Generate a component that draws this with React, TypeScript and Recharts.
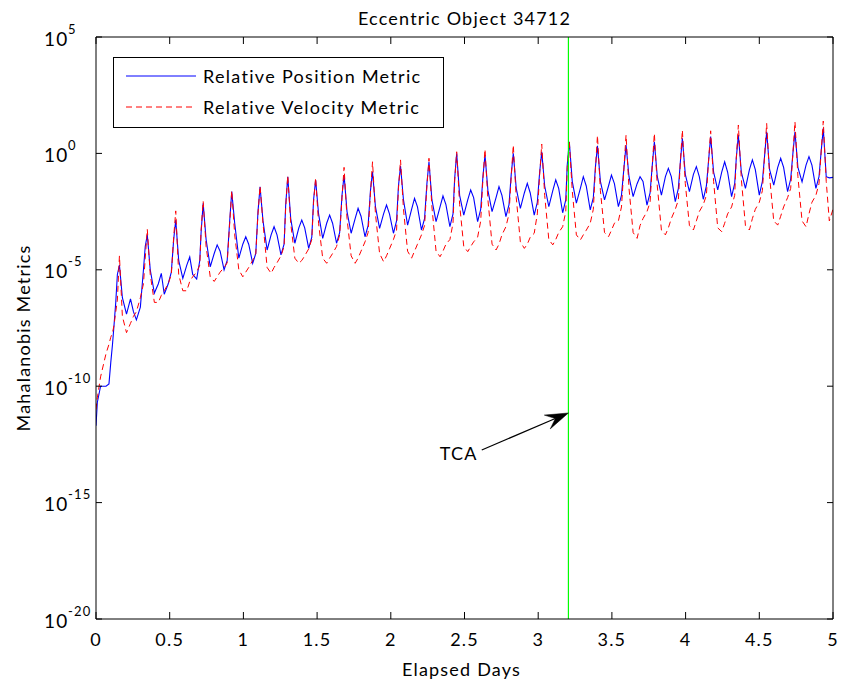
import React from 'react';
import { LineChart, Line, XAxis, YAxis, ReferenceLine, Legend } from 'recharts';

const FONT = 'Lato, "Open Sans", "DejaVu Sans", sans-serif';

const chartTitle = 'Eccentric Object 34712';
const xAxisTitle = 'Elapsed Days';
const yAxisTitle = 'Mahalanobis Metrics';
const positionName = 'Relative Position Metric';
const velocityName = 'Relative Velocity Metric';

const xTicks = [0, 0.5, 1, 1.5, 2, 2.5, 3, 3.5, 4, 4.5, 5];
const yTickExponents = [-20, -15, -10, -5, 0, 5];

const tcaDay = 3.205;
const tcaLabel = 'TCA';
const tcaArrowFrom = { day: 2.617, log10: -12.74 };
const tcaArrowTo = { day: 3.205, log10: -11.15 };

// elapsed days of each sample
const days = [
  0, 0.009, 0.031, 0.068, 0.088, 0.1, 0.112, 0.122, 0.134, 0.145,
  0.159, 0.179, 0.207, 0.234, 0.254, 0.274, 0.301, 0.322, 0.334,
  0.348, 0.368, 0.396, 0.423, 0.443, 0.463, 0.49, 0.511, 0.527,
  0.541, 0.561, 0.589, 0.616, 0.636, 0.656, 0.683, 0.704, 0.713,
  0.727, 0.747, 0.775, 0.802, 0.822, 0.842, 0.869, 0.89, 0.907,
  0.921, 0.941, 0.969, 0.996, 1.016, 1.036, 1.063, 1.084, 1.099,
  1.113, 1.133, 1.161, 1.188, 1.208, 1.228, 1.255, 1.276, 1.287,
  1.301, 1.321, 1.349, 1.376, 1.396, 1.416, 1.443, 1.464, 1.476,
  1.49, 1.51, 1.538, 1.565, 1.585, 1.605, 1.632, 1.653, 1.669,
  1.683, 1.703, 1.731, 1.758, 1.778, 1.798, 1.825, 1.846, 1.862,
  1.876, 1.896, 1.924, 1.951, 1.971, 1.991, 2.018, 2.039, 2.052,
  2.066, 2.086, 2.114, 2.141, 2.161, 2.181, 2.208, 2.229, 2.245,
  2.259, 2.279, 2.307, 2.334, 2.354, 2.374, 2.401, 2.422, 2.433,
  2.447, 2.467, 2.495, 2.522, 2.542, 2.562, 2.589, 2.61, 2.625,
  2.639, 2.659, 2.687, 2.714, 2.734, 2.754, 2.781, 2.802, 2.817,
  2.831, 2.851, 2.879, 2.906, 2.926, 2.946, 2.973, 2.994, 3.01,
  3.024, 3.044, 3.072, 3.099, 3.119, 3.139, 3.166, 3.187, 3.197,
  3.211, 3.231, 3.259, 3.286, 3.306, 3.326, 3.353, 3.374, 3.388,
  3.402, 3.422, 3.45, 3.477, 3.497, 3.517, 3.544, 3.565, 3.582,
  3.596, 3.616, 3.644, 3.671, 3.691, 3.711, 3.738, 3.759, 3.774,
  3.788, 3.808, 3.836, 3.863, 3.883, 3.903, 3.93, 3.951, 3.964,
  3.978, 3.998, 4.026, 4.053, 4.073, 4.093, 4.12, 4.141, 4.156,
  4.17, 4.19, 4.218, 4.245, 4.265, 4.285, 4.312, 4.333, 4.344,
  4.358, 4.378, 4.406, 4.433, 4.453, 4.473, 4.5, 4.521, 4.536,
  4.55, 4.57, 4.598, 4.625, 4.645, 4.665, 4.692, 4.713, 4.728,
  4.742, 4.762, 4.79, 4.817, 4.837, 4.857, 4.884, 4.905, 4.92,
  4.934, 4.954, 4.975, 5.0,
];

// log10 of the relative position metric
const positionLog10 = [
  -11.7, -10.7, -10.0, -10.0, -9.9, -9.0, -8.2, -7.4, -6.4, -5.2,
  -4.8, -6.2, -6.9, -6.25, -6.8, -7.15, -6.6, -5.0, -4.0,
  -3.5, -5.0, -6.0, -5.6, -5.15, -6.05, -5.6, -5.1, -3.7,
  -2.86, -4.6, -5.37, -4.8, -4.45, -5.2, -5.4, -4.6, -3.4,
  -2.14, -3.7, -4.87, -4.3, -3.93, -4.2, -5.0, -4.6, -2.9,
  -1.64, -3.0, -4.5, -3.9, -3.58, -3.9, -4.72, -4.3, -2.5,
  -1.43, -2.9, -4.15, -3.5, -3.15, -3.5, -4.36, -3.9, -2.2,
  -1.0, -2.8, -3.86, -3.2, -2.86, -3.2, -4.08, -3.6, -2.0,
  -1.14, -2.6, -3.65, -3.0, -2.65, -3.0, -3.86, -3.4, -1.8,
  -0.93, -2.5, -3.43, -2.8, -2.36, -2.7, -3.58, -3.1, -1.6,
  -0.79, -2.3, -3.22, -2.6, -2.22, -2.6, -3.43, -2.9, -1.4,
  -0.54, -2.0, -3.08, -2.4, -1.93, -2.3, -3.29, -2.8, -1.3,
  -0.36, -2.0, -2.93, -2.3, -1.83, -2.2, -3.15, -2.6, -1.1,
  0.0, -1.8, -2.65, -2.0, -1.57, -1.9, -2.93, -2.4, -1.0,
  -0.07, -1.6, -2.5, -1.9, -1.43, -1.8, -2.72, -2.2, -0.9,
  0.0, -1.5, -2.36, -1.7, -1.29, -1.7, -2.65, -2.1, -0.8,
  0.07, -1.4, -2.29, -1.6, -1.14, -1.5, -2.55, -2.0, -0.5,
  0.5, -1.2, -2.14, -1.5, -1.0, -1.4, -2.43, -1.9, -0.6,
  0.33, -1.2, -2.0, -1.4, -0.93, -1.3, -2.29, -1.8, -0.6,
  0.36, -1.0, -1.86, -1.3, -1.0, -1.2, -2.22, -1.7, -0.5,
  0.5, -1.0, -1.79, -1.0, -0.64, -1.0, -2.07, -1.5, -0.4,
  0.65, -0.9, -1.64, -0.9, -0.57, -1.0, -1.97, -1.4, -0.3,
  0.72, -0.8, -1.57, -0.8, -0.36, -0.8, -1.86, -1.3, -0.2,
  0.79, -0.8, -1.5, -0.7, -0.28, -0.7, -1.79, -1.2, -0.1,
  0.93, -0.7, -1.36, -0.6, -0.21, -0.6, -1.64, -1.1, 0.0,
  0.93, -0.6, -1.22, -0.5, -0.14, -0.5, -1.5, -1.0, 0.1,
  1.08, -1.0, -1.05, -1.03,
];

// log10 of the relative velocity metric
const velocityLog10 = [
  -11.0, -10.5, -9.6, -8.6, -8.2, -7.9, -7.7, -7.4, -6.8, -6.3,
  -4.4, -7.0, -7.7, -7.3, -7.0, -6.8, -6.2, -5.6, -4.5,
  -3.26, -5.2, -6.4, -6.4, -6.1, -5.9, -5.6, -5.2, -3.6,
  -2.47, -5.2, -5.9, -5.9, -5.5, -5.3, -5.1, -4.8, -3.3,
  -2.05, -4.0, -5.3, -5.5, -5.3, -5.1, -4.9, -4.7, -3.0,
  -1.6, -3.5, -5.0, -5.3, -5.1, -4.9, -4.6, -4.3, -2.6,
  -1.4, -3.0, -4.9, -5.15, -4.9, -4.7, -4.4, -4.0, -2.3,
  -0.95, -3.0, -4.5, -4.72, -4.6, -4.4, -4.1, -3.7, -2.1,
  -1.05, -3.0, -4.5, -4.72, -4.5, -4.3, -4.0, -3.5, -1.9,
  -0.6, -2.8, -4.4, -4.72, -4.5, -4.2, -3.8, -3.4, -1.7,
  -0.36, -2.6, -4.3, -4.65, -4.4, -4.1, -3.7, -3.3, -1.5,
  -0.28, -2.4, -4.2, -4.5, -4.2, -3.9, -3.5, -3.1, -1.4,
  -0.21, -2.3, -4.2, -4.44, -4.2, -3.9, -3.7, -3.0, -1.2,
  0.07, -2.2, -4.0, -4.22, -4.0, -3.8, -3.6, -2.9, -1.1,
  0.18, -2.0, -3.9, -4.15, -3.9, -3.5, -3.15, -2.6, -1.0,
  0.36, -1.9, -3.8, -4.08, -3.9, -3.6, -3.43, -2.6, -0.9,
  0.4, -1.8, -3.7, -3.93, -3.7, -3.4, -3.15, -2.5, -0.6,
  0.5, -1.6, -3.5, -3.72, -3.5, -3.3, -3.0, -2.4, -0.7,
  0.77, -1.6, -3.4, -3.58, -3.3, -3.0, -2.9, -2.3, -0.6,
  0.79, -1.5, -3.4, -3.65, -3.1, -2.8, -2.5, -2.1, -0.5,
  0.86, -1.4, -3.3, -3.5, -3.2, -2.8, -2.4, -2.0, -0.4,
  1.0, -1.3, -3.1, -3.29, -2.9, -2.5, -2.2, -1.8, -0.3,
  0.97, -1.2, -3.2, -3.36, -3.0, -2.6, -2.3, -1.8, -0.2,
  1.22, -1.1, -3.1, -3.29, -2.8, -2.4, -2.1, -1.6, -0.1,
  1.29, -1.0, -2.9, -3.08, -2.7, -2.3, -1.9, -1.5, 0.0,
  1.36, -1.0, -2.9, -3.15, -2.6, -2.1, -1.8, -1.3, 0.1,
  1.39, -1.2, -2.9, -2.4,
];

const data = days.map((d, i) => ({
  day: d,
  position: Math.pow(10, positionLog10[i]),
  velocity: Math.pow(10, velocityLog10[i]),
}));

const yTicks = yTickExponents.map((e) => Math.pow(10, e));

const txt = { fontFamily: FONT, fill: '#000', letterSpacing: 1.2 } as const;

const BottomTick = (props: any) => {
  const { x, y, payload } = props;
  return (
    <g>
      <line x1={x} y1={y} x2={x} y2={y - 7} stroke="#000" strokeWidth={1} />
      <text x={x} y={y + 27} textAnchor="middle" fontSize={18} {...txt}>
        {String(payload.value)}
      </text>
    </g>
  );
};

const TopTick = (props: any) => {
  const { x, y } = props;
  return <line x1={x} y1={y} x2={x} y2={y + 7} stroke="#000" strokeWidth={1} />;
};

const LeftTick = (props: any) => {
  const { x, y, payload } = props;
  const exp = Math.round(Math.log10(payload.value));
  return (
    <g>
      <line x1={x} y1={y} x2={x + 6} y2={y} stroke="#000" strokeWidth={1} />
      <text x={x - 52} y={y + 8.5} fontSize={19} {...txt}>10</text>
      <text x={x - 28} y={y - 3.5} fontSize={13} {...txt}>{String(exp)}</text>
    </g>
  );
};

const RightTick = (props: any) => {
  const { x, y } = props;
  return <line x1={x} y1={y} x2={x - 6} y2={y} stroke="#000" strokeWidth={1} />;
};

const TcaArrow = (props: any) => {
  const { x1, y1, x2, y2 } = props;
  if ([x1, y1, x2, y2].some((v) => typeof v !== 'number' || isNaN(v))) return null;
  const ang = Math.atan2(y2 - y1, x2 - x1);
  const c = Math.cos(ang);
  const s = Math.sin(ang);
  const L = 23;
  const W = 7.5;
  const bx = x2 - L * c;
  const by = y2 - L * s;
  const nx = x2 - 0.62 * L * c;
  const ny = y2 - 0.62 * L * s;
  const pts = `${x2},${y2} ${bx - W * s},${by + W * c} ${nx},${ny} ${bx + W * s},${by - W * c}`;
  return (
    <g>
      <line x1={x1} y1={y1} x2={nx} y2={ny} stroke="#000" strokeWidth={1.2} />
      <polygon points={pts} fill="#000" stroke="#000" strokeWidth={0.5} />
      <text x={x1 - 4} y={y1 + 10} textAnchor="end" fontSize={18} {...txt}>{tcaLabel}</text>
    </g>
  );
};

const LegendBox = (props: any) => {
  const payload = (props && props.payload) || [];
  return (
    <div
      style={{
        width: 331,
        height: 71,
        boxSizing: 'border-box',
        border: '1px solid #000',
        background: '#fff',
        position: 'relative',
        fontFamily: FONT,
        fontSize: 18,
        letterSpacing: 1.3,
        color: '#000',
      }}
    >
      {payload.map((entry: any, i: number) => (
        <div
          key={i}
          style={{ position: 'absolute', left: 0, top: i === 0 ? 6 : 37, height: 24, display: 'flex', alignItems: 'center', whiteSpace: 'nowrap' }}
        >
          <svg width={89} height={24} style={{ display: 'block' }}>
            <line
              x1={12}
              x2={82}
              y1={12}
              y2={12}
              stroke={entry.color}
              strokeWidth={1}
              strokeDasharray={entry.payload && entry.payload.strokeDasharray}
            />
          </svg>
          <span style={{ lineHeight: '24px' }}>{entry.value}</span>
        </div>
      ))}
    </div>
  );
};

export default function App() {
  return (
    <div style={{ position: 'absolute', left: 0, top: 0, width: 842, height: 686, background: '#fff' }}>
      <LineChart
        width={842}
        height={686}
        data={data}
        margin={{ top: 32, right: 4, bottom: 27, left: 46 }}
      >
        <XAxis
          xAxisId="bottom"
          dataKey="day"
          type="number"
          domain={[0, 5]}
          ticks={xTicks}
          interval={0}
          height={40}
          tickSize={0}
          tickMargin={0}
          tickLine={false}
          axisLine={{ stroke: '#000', strokeWidth: 1 }}
          tick={<BottomTick />}
          allowDataOverflow
          label={(p: any) => {
            const vb = p.viewBox || { x: 96, y: 619, width: 737, height: 40 };
            return (
              <text x={vb.x + vb.width / 2 - 3} y={vb.y + 57} textAnchor="middle" fontSize={18} {...txt}>
                {xAxisTitle}
              </text>
            );
          }}
        />
        <XAxis
          xAxisId="top"
          orientation="top"
          dataKey="day"
          type="number"
          domain={[0, 5]}
          ticks={xTicks}
          interval={0}
          height={5}
          tickSize={0}
          tickMargin={0}
          tickLine={false}
          axisLine={{ stroke: '#000', strokeWidth: 1 }}
          tick={<TopTick />}
          allowDataOverflow
          label={(p: any) => {
            const vb = p.viewBox || { x: 96, y: 32, width: 737, height: 5 };
            return (
              <text x={vb.x + vb.width / 2} y={vb.y - 7} textAnchor="middle" fontSize={18} {...txt}>
                {chartTitle}
              </text>
            );
          }}
        />
        <YAxis
          yAxisId="left"
          type="number"
          scale="log"
          domain={[1e-20, 1e5]}
          ticks={yTicks}
          interval={0}
          width={50}
          tickSize={0}
          tickMargin={0}
          tickLine={false}
          axisLine={{ stroke: '#000', strokeWidth: 1 }}
          tick={<LeftTick />}
          allowDataOverflow
          label={(p: any) => {
            const vb = p.viewBox || { x: 46, y: 37, width: 50, height: 582 };
            const cx = vb.x - 23;
            const cy = vb.y + vb.height / 2 + 10;
            return (
              <text
                x={cx}
                y={cy}
                textAnchor="middle"
                dominantBaseline="central"
                fontSize={18}
                transform={`rotate(-90 ${cx} ${cy})`}
                {...txt}
              >
                {yAxisTitle}
              </text>
            );
          }}
        />
        <YAxis
          yAxisId="right"
          orientation="right"
          type="number"
          scale="log"
          domain={[1e-20, 1e5]}
          ticks={yTicks}
          interval={0}
          width={5}
          tickSize={0}
          tickMargin={0}
          tickLine={false}
          axisLine={{ stroke: '#000', strokeWidth: 1 }}
          tick={<RightTick />}
          allowDataOverflow
        />
        <Legend
          layout="vertical"
          align="center"
          verticalAlign="middle"
          wrapperStyle={{ left: 113, top: 57, width: 331, height: 71 }}
          content={<LegendBox />}
        />
        <Line
          xAxisId="bottom"
          yAxisId="left"
          type="linear"
          dataKey="position"
          name={positionName}
          stroke="#0000ff"
          strokeWidth={1.1}
          dot={false}
          activeDot={false}
          isAnimationActive={false}
        />
        <Line
          xAxisId="bottom"
          yAxisId="left"
          type="linear"
          dataKey="velocity"
          name={velocityName}
          stroke="#ff0000"
          strokeWidth={1}
          strokeDasharray="6 4"
          dot={false}
          activeDot={false}
          isAnimationActive={false}
        />
        <ReferenceLine
          xAxisId="bottom"
          yAxisId="left"
          x={tcaDay}
          stroke="#00ff00"
          strokeWidth={1.2}
        />
        <ReferenceLine
          xAxisId="bottom"
          yAxisId="left"
          segment={[
            { x: tcaArrowFrom.day, y: Math.pow(10, tcaArrowFrom.log10) },
            { x: tcaArrowTo.day, y: Math.pow(10, tcaArrowTo.log10) },
          ]}
          shape={<TcaArrow />}
        />
      </LineChart>
    </div>
  );
}
